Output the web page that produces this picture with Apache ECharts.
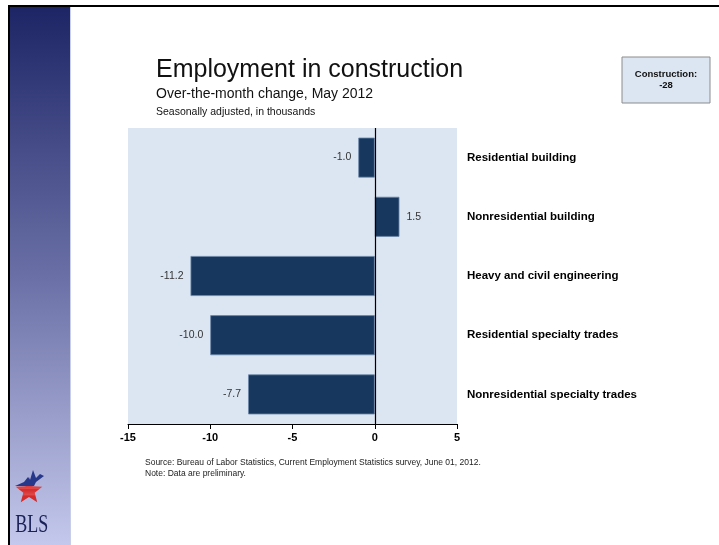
<!DOCTYPE html>
<html lang="en">
<head>
<meta charset="UTF-8">
<title>Employment in construction</title>
<style>
  html, body { margin: 0; padding: 0; background: #fff; }
  #box { width: 719px; height: 545px; }
</style>
</head>
<body>
<div id="box"></div>
<script src="https://cdn.jsdelivr.net/npm/echarts@6/dist/echarts.min.js"></script>
<script>
var categories = ['Residential building', 'Nonresidential building', 'Heavy and civil engineering',
    'Residential specialty trades', 'Nonresidential specialty trades'];
var changes = [-1.0, 1.5, -11.2, -10.0, -7.7];
var xTicks = [-15, -10, -5, 0, 5];
var totalLabel = 'Construction:\n-28';

var FONT = 'Liberation Sans';
var box = echarts.init(document.getElementById('box'));

// star for the logo
function starPoints(cx, cy, ro, ri) {
    var pts = [];
    for (var i = 0; i < 10; i++) {
        var r = i % 2 ? ri : ro;
        var a = -Math.PI / 2 + i * Math.PI / 5;
        pts.push([cx + r * Math.cos(a), cy + r * Math.sin(a)]);
    }
    return pts;
}

var option = {
    backgroundColor: '#fff',
    animation: false,
    title: [
        { text: 'Employment in construction', left: 151, top: 53,
          textStyle: { fontFamily: FONT, fontSize: 25, fontWeight: 'normal', color: '#111' } },
        { text: 'Over-the-month change, May 2012', left: 151, top: 82,
          textStyle: { fontFamily: FONT, fontSize: 14, fontWeight: 'normal', color: '#111' } },
        { text: 'Seasonally adjusted, in thousands', left: 151, top: 102,
          textStyle: { fontFamily: FONT, fontSize: 10.5, fontWeight: 'normal', color: '#111' } }
    ],
    grid: {
        left: 128, right: 262, top: 128, bottom: 121,
        show: true, backgroundColor: '#dce6f2', borderWidth: 0
    },
    xAxis: {
        type: 'value', min: xTicks[0], max: xTicks[xTicks.length - 1], interval: 5,
        axisLine: { show: true, onZero: false, lineStyle: { color: '#000', width: 1 } },
        axisTick: { show: true, length: 5, lineStyle: { color: '#000' } },
        splitLine: { show: false },
        axisLabel: { margin: 8, fontFamily: FONT, fontSize: 11, fontWeight: 'bold', color: '#000' }
    },
    yAxis: {
        type: 'category', data: categories, inverse: true, position: 'right',
        axisLine: { show: false }, axisTick: { show: false },
        axisLabel: { margin: 10, fontFamily: FONT, fontSize: 11.5, fontWeight: 'bold', color: '#000' }
    },
    series: [{
        type: 'bar',
        barWidth: 40,
        data: changes.map(function (v) {
            return { value: v, label: { position: v < 0 ? 'left' : 'right' } };
        }),
        itemStyle: { color: '#17375e', borderColor: '#6b86a8', borderWidth: 0.8 },
        label: {
            show: true, distance: 7, fontFamily: FONT, fontSize: 10.5, color: '#333',
            formatter: function (p) { return p.value.toFixed(1); }
        },
        markLine: {
            silent: true, symbol: 'none', label: { show: false },
            lineStyle: { color: '#000', width: 1.2, type: 'solid' },
            data: [{ xAxis: 0 }]
        }
    }],
    graphic: [
        // frame lines
        { type: 'rect', shape: { x: 8, y: 5, width: 711, height: 2 }, style: { fill: '#000' } },
        { type: 'rect', shape: { x: 8, y: 5, width: 2, height: 540 }, style: { fill: '#000' } },
        // left sidebar
        { type: 'rect', shape: { x: 10, y: 7, width: 60, height: 538 },
          style: { fill: new echarts.graphic.LinearGradient(0, 0, 0, 1, [
              { offset: 0, color: '#1d2566' },
              { offset: 0.5, color: '#6a70a6' },
              { offset: 1, color: '#c4c8ec' }
          ]) } },
        { type: 'rect', shape: { x: 70, y: 7, width: 1, height: 538 }, style: { fill: '#c8cde8' } },
        // logo
        { type: 'polygon', shape: { points: starPoints(29, 491, 14, 6) },
          style: { fill: new echarts.graphic.LinearGradient(0, 0, 0, 1, [
              { offset: 0, color: '#d42a2a' }, { offset: 0.2, color: '#e04848' },
              { offset: 0.25, color: '#d42a2a' }, { offset: 0.45, color: '#e04848' },
              { offset: 0.5, color: '#d42a2a' }, { offset: 0.7, color: '#e04848' },
              { offset: 0.75, color: '#d42a2a' }, { offset: 1, color: '#d42a2a' }
          ]) } },
        { type: 'polygon', shape: { points: [[15, 486], [24, 482], [28, 477], [30, 480], [33, 470], [36, 478], [40, 474], [44, 476], [40, 479], [36, 482], [34, 486]] },
          style: { fill: '#27378a' } },
        { type: 'text', x: 12, y: 513, scaleX: 0.72, originX: 12, originY: 513,
          style: { text: 'BLS', font: '25px "Liberation Serif"', fill: '#1a2157' } },
        // total box
        { type: 'rect', shape: { x: 622, y: 57, width: 88, height: 46 },
          style: { fill: '#dce6f2', stroke: '#8c8c8c', lineWidth: 1 } },
        { type: 'text', x: 666, y: 80,
          style: { text: totalLabel, font: 'bold 9.5px "Liberation Sans"', fill: '#111',
                   align: 'center', verticalAlign: 'middle', lineHeight: 11 } },
        // notes
        { type: 'text', left: 145, top: 457,
          style: { text: 'Source: Bureau of Labor Statistics, Current Employment Statistics survey, June 01, 2012.\nNote: Data are preliminary.',
                   font: '8.5px "Liberation Sans"', fill: '#222', lineHeight: 11 } }
    ]
};
box.setOption(option);
</script>
</body>
</html>
